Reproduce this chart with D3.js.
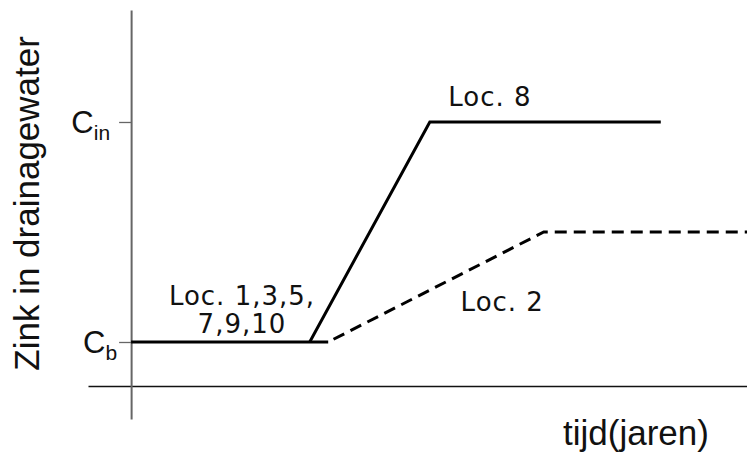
<!DOCTYPE html>
<html><head><meta charset="utf-8">
<script src="https://cdn.jsdelivr.net/npm/d3@7"></script>
<style>body{margin:0;background:#fff}svg{display:block}</style>
</head><body>
<svg id="c" width="747" height="454"></svg>
<script>
// Data (abstract units: time 0..100, concentration Cb=0, Cin=1)
const yTickValues = [0, 1];
const yTickMain = ["C", "C"];
const yTickSub = ["b", "in"];
const loc8Time = [0, 32, 29, 48.5, 86];
const loc8Conc = [0, 0, 0, 1, 1];
const loc2Time = [32, 67, 100];
const loc2Conc = [0, 0.5, 0.5];
const labelTexts = [["Loc. 1,3,5,", "7,9,10"], ["Loc. 8"], ["Loc. 2"]];
const labelTime = [18, 51.5, 53.5];
const labelConc = [0.17, 1.073, 0.14];
const yTitle = "Zink in drainagewater";
const xTitle = "tijd(jaren)";

const svg = d3.select("#c");
const x = d3.scaleLinear().domain([-7, 100]).range([88, 747]);
const y = d3.scaleLinear().domain([-0.35, 1.509]).range([419, 10]);

// x axis
const xAxis = svg.append("g").attr("transform", `translate(0,${y(-0.2)})`)
  .call(d3.axisBottom(x).tickValues([]).tickSizeOuter(0));
xAxis.select(".domain").attr("stroke", "#111").attr("stroke-width", 1.6);

// y axis
const yAxis = svg.append("g").attr("transform", `translate(${x(0)},0)`)
  .call(d3.axisLeft(y).tickValues(yTickValues).tickSize(12).tickSizeOuter(0).tickFormat(""));
yAxis.select(".domain").attr("stroke", "#666").attr("stroke-width", 2);
yAxis.selectAll(".tick line").attr("stroke", "#666").attr("stroke-width", 1.3);

// y tick labels with subscripts
yTickValues.forEach((v, i) => {
  const t = svg.append("text")
    .attr("x", x(0) - 14 + (i === 0 ? 0 : -7))
    .attr("y", y(v) + 11)
    .attr("text-anchor", "end")
    .attr("font-family", "Liberation Sans, Arial, sans-serif")
    .attr("fill", "#111");
  t.append("tspan").attr("font-size", 31).text(yTickMain[i]);
  t.append("tspan").attr("font-size", 21).attr("dy", 7).text(yTickSub[i]);
});

// lines
const line = d3.line().x(d => x(d[0])).y(d => y(d[1]));
const solid1 = [[loc8Time[0], loc8Conc[0]], [loc8Time[1], loc8Conc[1]]];
const solid2 = [[loc8Time[2], loc8Conc[2]], [loc8Time[3], loc8Conc[3]], [loc8Time[4], loc8Conc[4]]];
[solid1, solid2].forEach(p => {
  svg.append("path").attr("d", line(p)).attr("fill", "none")
    .attr("stroke", "#000").attr("stroke-width", 3).attr("stroke-linejoin", "miter");
});
svg.append("path").attr("d", line(loc2Time.map((t, i) => [t, loc2Conc[i]])))
  .attr("fill", "none").attr("stroke", "#000").attr("stroke-width", 3)
  .attr("stroke-dasharray", "12,7").attr("stroke-dashoffset", -6);

// labels
labelTexts.forEach((lines, i) => {
  const t = svg.append("text")
    .attr("x", x(labelTime[i])).attr("y", y(labelConc[i]))
    .attr("text-anchor", i === 0 ? "middle" : "start")
    .attr("font-family", "DejaVu Sans, Verdana, sans-serif")
    .attr("font-size", 26).attr("letter-spacing", 1).attr("fill", "#111");
  lines.forEach((s, j) => {
    t.append("tspan").attr("x", x(labelTime[i])).attr("dy", j === 0 ? 0 : 28).text(s);
  });
});

// titles
svg.append("text")
  .attr("transform", `translate(39,${y(0.63)}) rotate(-90)`)
  .attr("text-anchor", "middle")
  .attr("font-family", "Liberation Sans, Arial, sans-serif")
  .attr("font-size", 35).attr("fill", "#111").text(yTitle);
svg.append("text")
  .attr("x", 563).attr("y", 445)
  .attr("font-family", "Liberation Sans, Arial, sans-serif")
  .attr("font-size", 35).attr("fill", "#111").text(xTitle);
</script>
</body></html>
